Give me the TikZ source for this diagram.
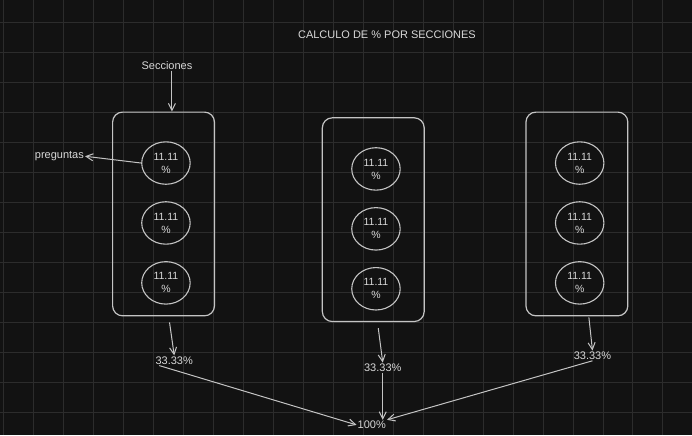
\documentclass[tikz,border=0pt]{standalone}
\usepackage{fontspec}
\setmainfont{Liberation Sans}
\usetikzlibrary{arrows.meta,shapes.geometric,positioning}
\definecolor{fondo}{HTML}{121212}
\definecolor{rejilla}{HTML}{2C2C2C}
\definecolor{trazo}{HTML}{C4C4C4}
\definecolor{letra}{HTML}{D8D8D8}

\begin{document}
\begin{tikzpicture}[x=1pt,y=-1pt,
    seccion/.style={draw=trazo,line width=1.2pt,rounded corners=10pt,minimum width=102pt,minimum height=204pt},
    pregunta/.style={draw=trazo,line width=1.1pt,ellipse,minimum width=48.5pt,minimum height=42.5pt,inner sep=0pt,align=center,text=letra,font=\fontsize{10.5}{13}\selectfont},
    etiqueta/.style={text=letra,inner sep=1pt,font=\fontsize{11}{13}\selectfont},
    flecha/.style={draw=trazo,line width=1pt,-{Straight Barb[length=7pt,width=7pt]}}]
        % Background and grid
        \fill[fondo] (0,0) rectangle (692,435);
        \foreach \x in {0,...,22}
          \draw[rejilla,line width=0.9pt] (3.3+30*\x,0) -- (3.3+30*\x,435);
        \foreach \y in {0,...,13}
          \draw[rejilla,line width=0.9pt] (0,22.3+30*\y) -- (692,22.3+30*\y);

        % Title
        \node[etiqueta] (titulo) at (387,34) {CALCULO DE \% POR SECCIONES};

        % Sections
        \node[seccion] (caja1) at (163.3,213.8) {};
        \node[seccion] (caja2) at (373.3,219.5) {};
        \node[seccion] (caja3) at (577.2,213.8) {};

        % Questions
        \foreach \n/\x/\y in {1/165.7/162.8,2/376/168.7,3/580/162.8}{
          \node[pregunta] (p\n1) at (\x,\y) {11.11\\\%};
          \node[pregunta] (p\n2) at (\x,\y+60) {11.11\\\%};
          \node[pregunta] (p\n3) at (\x,\y+120) {11.11\\\%};
        }

        % Labels
        \node[etiqueta] (secc) at (166.7,65) {Secciones};
        \node[etiqueta] (preg) at (59,156) {preguntas};
        \draw[flecha] ([xshift=5pt]secc.south) -- ([xshift=5pt]secc.south |- caja1.north);
        \draw[flecha] (p11.west) -- (preg.east);

        % Percentages
        \node[etiqueta] (pc1) at (174,360.5) {33.33\%};
        \node[etiqueta] (pc2) at (382.8,367.7) {33.33\%};
        \node[etiqueta] (pc3) at (592.8,355.7) {33.33\%};
        \node[etiqueta] (total) at (371.8,425) {100\%};
        \draw[flecha] ([xshift=6pt,yshift=-6pt]caja1.south) -- (pc1.north);
        \draw[flecha] ([xshift=5pt,yshift=-6pt]caja2.south) -- (pc2.north);
        \draw[flecha] ([xshift=12pt,yshift=-1pt]caja3.south) -- (pc3.north);

        % Total
        \draw[flecha] (pc2.south) -- (pc2.south |- total.north);
        \draw[flecha] ([xshift=-15pt]pc1.south) -- (total.west);
        \draw[flecha] (pc3.south) -- (total.north east);
\end{tikzpicture}
\end{document}
